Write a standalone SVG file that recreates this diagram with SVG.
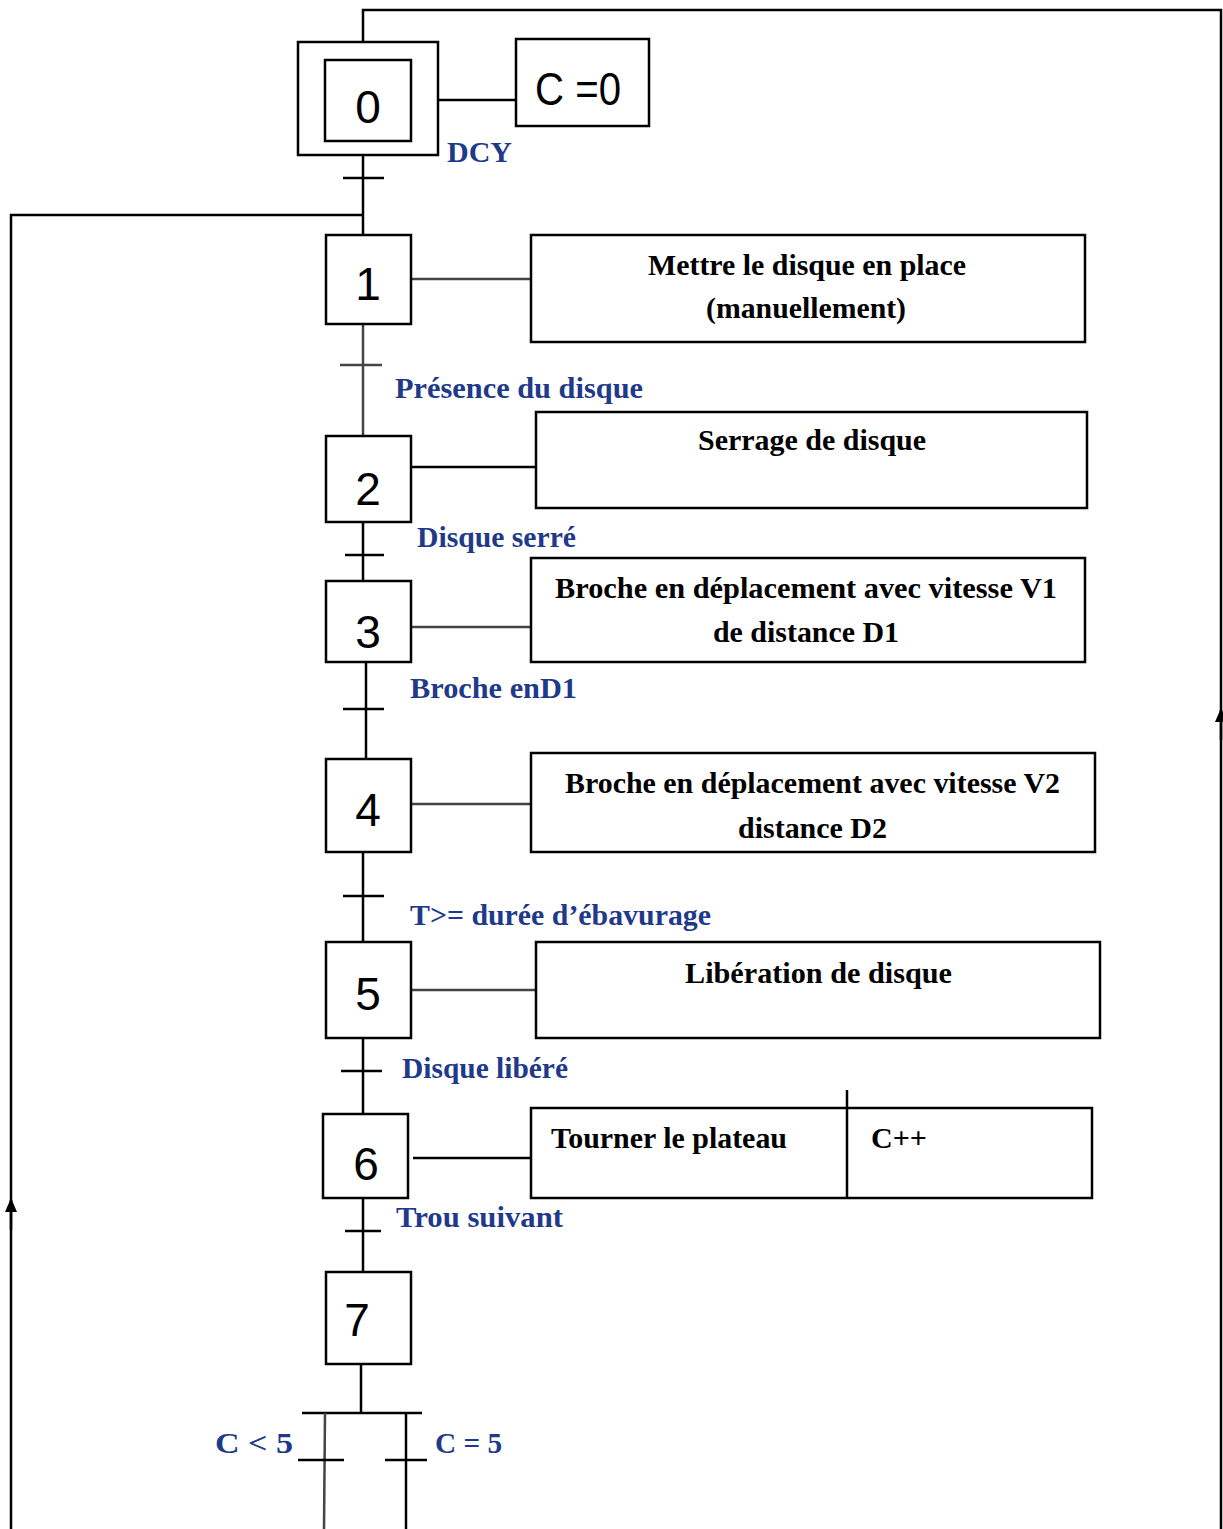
<svg xmlns="http://www.w3.org/2000/svg" width="1223" height="1529" viewBox="0 0 1223 1529">
<style>
.box{fill:#fff;stroke:#000;stroke-width:2.5}
.ln{fill:none;stroke:#000;stroke-width:2.5}
.gl{fill:none;stroke:#444;stroke-width:2.5}
.num{font-family:"Liberation Sans",Arial,sans-serif;font-size:46px;fill:#000;text-anchor:middle}
.act{font-family:"Liberation Serif","Times New Roman",serif;font-size:30px;font-weight:bold;fill:#000}
.lab{font-family:"Liberation Serif","Times New Roman",serif;font-size:30px;font-weight:bold;fill:#1f3a8a}
</style>
<defs>
<marker id="ar" markerWidth="14" markerHeight="12" refX="12" refY="6" orient="auto" markerUnits="userSpaceOnUse">
<path d="M0,0 L14,6 L0,12 Z" fill="#000"/>
</marker>
</defs>
<g id="connectors">
<polyline class="ln" points="363,42 363,10 1221,10 1221,1529"/>
<line class="ln" x1="1221" y1="740" x2="1221" y2="710" marker-end="url(#ar)"/>
<polyline class="ln" points="363,215 11,215 11,1529"/>
<line class="ln" x1="11" y1="1230" x2="11" y2="1200" marker-end="url(#ar)"/>
<line class="ln" x1="363" y1="155" x2="363" y2="235"/>
<line class="ln" x1="343" y1="178" x2="384" y2="178"/>
<line class="ln" x1="438" y1="100" x2="516" y2="100"/>
<line class="gl" x1="363" y1="324" x2="363" y2="436"/>
<line class="gl" x1="340" y1="365" x2="382" y2="365"/>
<line class="gl" x1="411" y1="279" x2="531" y2="279"/>
<line class="ln" x1="363" y1="522" x2="363" y2="581"/>
<line class="ln" x1="345" y1="555" x2="384" y2="555"/>
<line class="ln" x1="411" y1="467" x2="536" y2="467"/>
<line class="ln" x1="366" y1="662" x2="366" y2="759"/>
<line class="ln" x1="343" y1="709" x2="384" y2="709"/>
<line class="gl" x1="411" y1="627" x2="531" y2="627"/>
<line class="ln" x1="363" y1="852" x2="363" y2="942"/>
<line class="ln" x1="343" y1="896" x2="384" y2="896"/>
<line class="gl" x1="411" y1="804" x2="538" y2="804"/>
<line class="ln" x1="363" y1="1038" x2="363" y2="1114"/>
<line class="ln" x1="341" y1="1071" x2="382" y2="1071"/>
<line class="gl" x1="411" y1="990" x2="536" y2="990"/>
<line class="ln" x1="363" y1="1198" x2="363" y2="1272"/>
<line class="ln" x1="345" y1="1231" x2="381" y2="1231"/>
<line class="ln" x1="413" y1="1158" x2="537" y2="1158"/>
<line class="ln" x1="361" y1="1364" x2="361" y2="1413"/>
<line class="ln" x1="302" y1="1413" x2="422" y2="1413"/>
<line class="gl" x1="325" y1="1413" x2="324" y2="1529"/>
<line class="ln" x1="298" y1="1460" x2="344" y2="1460"/>
<line class="ln" x1="406" y1="1413" x2="406" y2="1529"/>
<line class="ln" x1="385" y1="1460" x2="427" y2="1460"/>
</g>
<g id="step0">
<rect class="box" x="298" y="42" width="140" height="113"/>
<rect class="box" x="325" y="60" width="86" height="81"/>
<text class="num" x="368" y="123">0</text>
</g>
<g id="action0">
<rect class="box" x="516" y="39" width="133" height="87"/>
<text class="num" x="578" y="105" textLength="86" lengthAdjust="spacingAndGlyphs">C =0</text>
</g>
<g id="step1">
<rect class="box" x="326" y="235" width="85" height="89"/>
<text class="num" x="368" y="300">1</text>
</g>
<g id="action1">
<rect class="box" x="531" y="235" width="554" height="107"/>
<text class="act" x="648" y="275" textLength="318" lengthAdjust="spacingAndGlyphs">Mettre le disque en place</text>
<text class="act" x="706" y="318" textLength="200" lengthAdjust="spacingAndGlyphs">(manuellement)</text>
</g>
<g id="step2">
<rect class="box" x="326" y="436" width="85" height="86"/>
<text class="num" x="368" y="505">2</text>
</g>
<g id="action2">
<rect class="box" x="536" y="412" width="551" height="96"/>
<text class="act" x="698" y="450" textLength="228" lengthAdjust="spacingAndGlyphs">Serrage de disque</text>
</g>
<g id="step3">
<rect class="box" x="326" y="581" width="85" height="81"/>
<text class="num" x="368" y="648">3</text>
</g>
<g id="action3">
<rect class="box" x="531" y="558" width="554" height="104"/>
<text class="act" x="555" y="598" textLength="502" lengthAdjust="spacingAndGlyphs">Broche en déplacement  avec vitesse V1</text>
<text class="act" x="713" y="642" textLength="186" lengthAdjust="spacingAndGlyphs">de distance D1</text>
</g>
<g id="step4">
<rect class="box" x="326" y="759" width="85" height="93"/>
<text class="num" x="368" y="826">4</text>
</g>
<g id="action4">
<rect class="box" x="531" y="753" width="564" height="99"/>
<text class="act" x="565" y="793" textLength="495" lengthAdjust="spacingAndGlyphs">Broche en déplacement avec vitesse V2</text>
<text class="act" x="738" y="838" textLength="149" lengthAdjust="spacingAndGlyphs">distance D2</text>
</g>
<g id="step5">
<rect class="box" x="326" y="942" width="85" height="96"/>
<text class="num" x="368" y="1010">5</text>
</g>
<g id="action5">
<rect class="box" x="536" y="942" width="564" height="96"/>
<text class="act" x="685" y="983" textLength="267" lengthAdjust="spacingAndGlyphs">Libération de disque</text>
</g>
<g id="step6">
<rect class="box" x="323" y="1114" width="85" height="84"/>
<text class="num" x="366" y="1180">6</text>
</g>
<g id="action6">
<rect class="box" x="531" y="1108" width="561" height="90"/>
<line class="ln" x1="847" y1="1090" x2="847" y2="1198"/>
<text class="act" x="551" y="1148" textLength="236" lengthAdjust="spacingAndGlyphs">Tourner le plateau</text>
<text class="act" x="871" y="1148" textLength="56" lengthAdjust="spacingAndGlyphs">C++</text>
</g>
<g id="step7">
<rect class="box" x="326" y="1272" width="85" height="92"/>
<text class="num" x="357" y="1336">7</text>
</g>
<g id="labels">
<text class="lab" x="447" y="162" textLength="65" lengthAdjust="spacingAndGlyphs">DCY</text>
<text class="lab" x="395" y="398" textLength="248" lengthAdjust="spacingAndGlyphs">Présence du disque</text>
<text class="lab" x="417" y="547" textLength="159" lengthAdjust="spacingAndGlyphs">Disque serré</text>
<text class="lab" x="410" y="698" textLength="167" lengthAdjust="spacingAndGlyphs">Broche enD1</text>
<text class="lab" x="410" y="925" textLength="301" lengthAdjust="spacingAndGlyphs">T&gt;= durée d’ébavurage</text>
<text class="lab" x="402" y="1078" textLength="166" lengthAdjust="spacingAndGlyphs">Disque libéré</text>
<text class="lab" x="396" y="1227" textLength="167" lengthAdjust="spacingAndGlyphs">Trou suivant</text>
<text class="lab" x="215" y="1453" textLength="78" lengthAdjust="spacingAndGlyphs">C &lt;  5</text>
<text class="lab" x="435" y="1453" textLength="67" lengthAdjust="spacingAndGlyphs">C = 5</text>
</g>
</svg>
